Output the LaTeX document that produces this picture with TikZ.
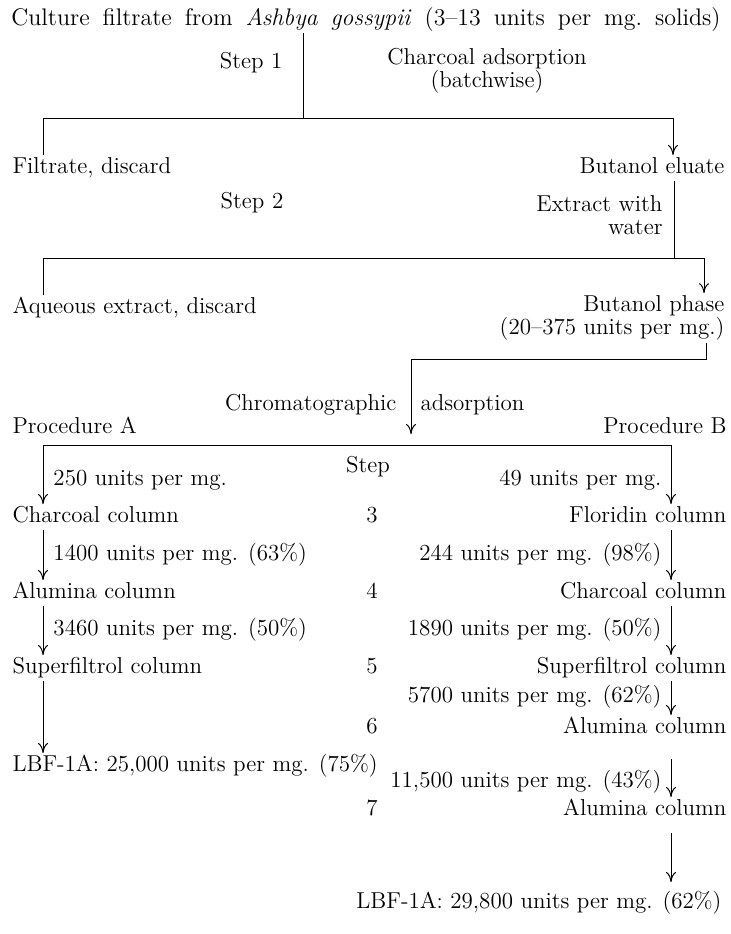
\documentclass[tikz,border=0pt]{standalone}
\usepackage{tikz}
\usetikzlibrary{arrows.meta}
\usetikzlibrary{positioning}

\begin{document}
\begin{tikzpicture}[x=0.5pt,y=-0.5pt,>={To[length=5pt,width=5pt]},line width=0.5pt,
  font=\fontsize{11.5}{11.5}\selectfont,
  txt/.style={inner sep=1pt,text height=8pt,text depth=2.5pt},
  lft/.style={txt,anchor=west},
  rgt/.style={txt,anchor=east},
  two/.style={inner sep=1pt,align=#1}]
\useasboundingbox (0,0) rectangle (731,934);
%%
\node (title) at (366,20) [txt,font=\fontsize{12}{12}\selectfont] {\spaceskip=6.5pt plus 1pt Culture filtrate from \textit{Ashbya gossypii} (3--13 units per mg.\ solids)};
\node (stepone) at (285,63) [rgt] {Step 1};
\node (charads) at (487,71) [two=center] {Charcoal adsorption\\(batchwise)};
\node (filtrate) at (10,168) [lft] {Filtrate, discard};
\node (eluate) at (727,168) [rgt] {Butanol eluate};
\node (steptwo) at (252,203) [txt] {Step 2};
\node (extract) at (665,215) [two=right,anchor=east] {Extract with\\water};
\node (aqueous) at (10,308) [lft] {Aqueous extract, discard};
\node (phase) at (727,318) [two=right,anchor=east] {Butanol phase\\(20--375 units per mg.)};
\node (chrom) at (399,405) [rgt] {Chromatographic};
\node (adsorp) at (418,405) [lft] {adsorption};
\node (procA) at (10,428) [lft] {Procedure A};
\node (procB) at (729,428) [rgt] {Procedure B};
\node (step) at (368,467) [txt] {Step};
%% procedure A and B, step by step
\node (aU1) at (51,480) [lft] {250 units per mg.};
\node (bU1) at (664,480) [rgt] {49 units per mg.};
\node (aCharcoal) at (10,517) [lft] {Charcoal column};
\node (nThree) at (372,517) [txt] {3};
\node (bFloridin) at (729,517) [rgt] {Floridin column};
\node (aU2) at (51,555) [lft] {1400 units per mg. (63\%)};
\node (bU2) at (664,555) [rgt] {244 units per mg. (98\%)};
\node (aAlumina) at (10,593) [lft] {Alumina column};
\node (nFour) at (372,593) [txt] {4};
\node (bCharcoal) at (729,593) [rgt] {Charcoal column};
\node (aU3) at (51,630) [lft] {3460 units per mg. (50\%)};
\node (bU3) at (664,630) [rgt] {1890 units per mg. (50\%)};
\node (aSuper) at (10,668) [lft] {Superfiltrol column};
\node (nFive) at (372,668) [txt] {5};
\node (bSuper) at (729,668) [rgt] {Superfiltrol column};
\node (bU4) at (664,697) [rgt] {5700 units per mg. (62\%)};
\node (nSix) at (372,728) [txt] {6};
\node (bAluminaA) at (729,728) [rgt] {Alumina column};
\node (aLBF) at (10,766) [lft] {LBF-1A: 25,000 units per mg. (75\%)};
\node (bU5) at (664,782) [rgt] {11,500 units per mg. (43\%)};
\node (nSeven) at (372,810) [txt] {7};
\node (bAluminaB) at (729,810) [rgt] {Alumina column};
\node (bLBF) at (724,903) [rgt] {LBF-1A: 29,800 units per mg. (62\%)};
%% steps 1 and 2
\coordinate (jA) at (303,118);
\coordinate (lA) at (43,118);
\coordinate (rA) at (673,118);
\draw (title.south -| jA) -- (jA);
\draw (filtrate.north -| lA) -- (lA) -- (rA);
\draw [->] (rA) -- (eluate.north -| rA);
\coordinate (jB) at (674,258);
\coordinate (lB) at (43,258);
\coordinate (rB) at (704,258);
\draw (eluate.south -| jB) -- (jB);
\draw (aqueous.north -| lB) -- (lB) -- (rB);
\draw [->] (rB) -- (phase.north -| rB);
\coordinate (rC) at (706,359);
\coordinate (jC) at (411,359);
\coordinate (jCend) at (411,434);
\draw (phase.south -| rC) -- (rC) -- (jC);
\draw [->] (jC) -- (jCend);
%% columns
\coordinate (lP) at (43,445);
\coordinate (rP) at (671,445);
\draw (lP) -- (rP);
\draw [->] (lP) -- (aCharcoal.north -| lP);
\draw [->] (aCharcoal.south -| lP) -- (aAlumina.north -| lP);
\draw [->] (aAlumina.south -| lP) -- (aSuper.north -| lP);
\draw [->] (aSuper.south -| lP) -- (aLBF.north -| lP);
\draw [->] (rP) -- (bFloridin.north -| rP);
\draw [->] (bFloridin.south -| rP) -- (bCharcoal.north -| rP);
\draw [->] (bCharcoal.south -| rP) -- (bSuper.north -| rP);
\draw [->] (bSuper.south -| rP) -- (bAluminaA.north -| rP);
\draw [->,shorten <=9pt] (bAluminaA.south -| rP) -- (bAluminaB.north -| rP);
\draw [->,shorten <=5pt,shorten >=4pt] (bAluminaB.south -| rP) -- (bLBF.north -| rP);
%
\end{tikzpicture}
\end{document}
